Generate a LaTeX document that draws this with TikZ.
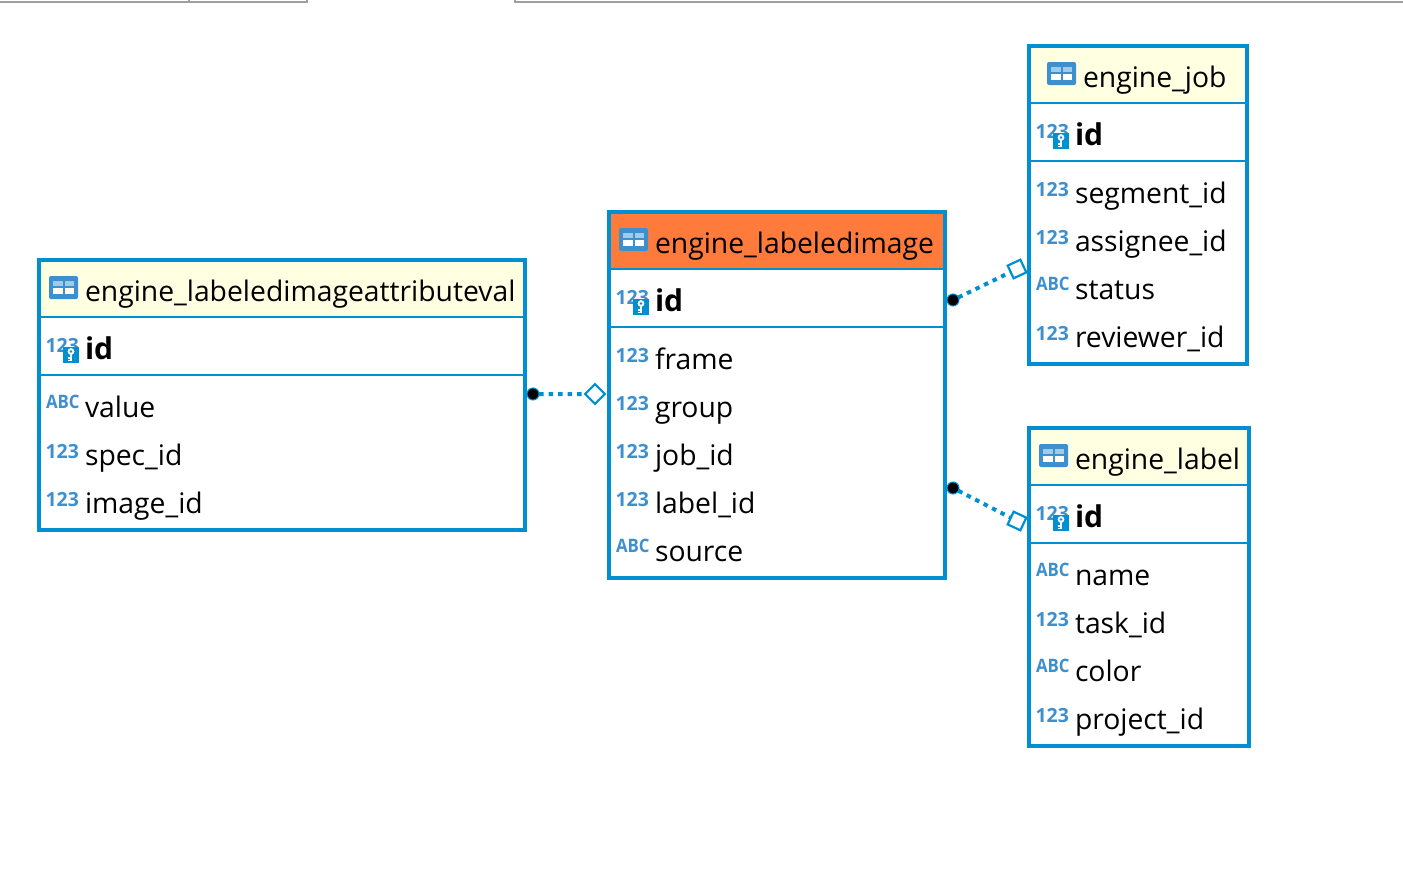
\documentclass[tikz,border=0pt]{standalone}
\usepackage{fontspec}
\setmainfont{Open Sans}
\definecolor{erblue}{HTML}{0090D2}
\definecolor{icoblue}{HTML}{3E8FCE}
\definecolor{icolight}{HTML}{9CCBEC}
\definecolor{hdryellow}{HTML}{FFFFE1}
\definecolor{hdrorange}{HTML}{FF7B3C}
\definecolor{tabgray}{HTML}{A0A0A0}
\newcommand{\fldfont}{\fontsize{28.3}{31}\selectfont}
\newcommand{\idfont}{\fontsize{30}{33}\selectfont\bfseries}
\newcommand{\icofont}{\fontsize{19.5}{20}\selectfont\bfseries}
\tikzset{
  x=1pt,y=-1pt,
  tablebox/.style={draw=erblue,line width=4pt,fill=none,rectangle,inner sep=0pt,outer sep=0pt},
  hdrbox/.style={rectangle,inner sep=0pt,outer sep=0pt,draw=none},
  sepline/.style={draw=erblue,line width=2pt},
  fieldtext/.style={anchor=base west,inner sep=0pt,outer sep=0pt,text=black,font=\fldfont},
  icotext/.style={anchor=base west,inner sep=0pt,outer sep=0pt,text=icoblue,font=\icofont},
  reldot/.style={circle,fill=black,draw=erblue,line width=1pt,minimum size=12pt,inner sep=0pt,outer sep=0pt},
  relopen/.style={rectangle,fill=white,draw=erblue,line width=2.2pt,minimum size=14pt,inner sep=0pt,outer sep=0pt},
  relline/.style={draw=erblue,line width=4pt,dash pattern=on 4.5pt off 5pt},
  tabline/.style={draw=tabgray,line width=1.5pt}
}
% icon of a table: #1 left, #2 top
\newcommand{\tblicon}[2]{%
  \begin{scope}[shift={(#1,#2)}]
    \fill[icoblue,rounded corners=2pt] (0,0) rectangle (29,23);
    \fill[icolight] (4,5) rectangle (13.5,10);
    \fill[icolight] (15.5,5) rectangle (25,10);
    \fill[white] (4,12) rectangle (13.5,18);
    \fill[white] (15.5,12) rectangle (25,18);
  \end{scope}}
\newcommand{\numrow}[4]{%
  \node[icotext] (#1i) at (#2-0.5,#3+3) {123};
  \node[fieldtext] (#1) at (#2+39,#3+10) {#4};}
\newcommand{\abcrow}[4]{%
  \node[icotext] (#1i) at (#2,#3+1) {\scalebox{0.86}[0.95]{ABC}};
  \node[fieldtext] (#1) at (#2+39,#3+10) {#4};}
\newcommand{\idrow}[3]{%
  \node[icotext] (#1i) at (#2-0.5,#3+3) {123};
  \begin{scope}[shift={(#2+17,#3-2)}]
    \fill[erblue] (0,0) rectangle (16,16);
    \fill[white] (8,4.5) circle (3.4);
    \fill[erblue] (8,4.5) circle (1.4);
    \fill[white] (6.7,7) rectangle (9.3,14);
    \fill[white] (4.6,10) rectangle (6.7,11.5);
    \fill[white] (4.6,12.5) rectangle (6.7,14);
  \end{scope}
  \node[fieldtext,font=\idfont] (#1) at (#2+39,#3+10) {id};}
\begin{document}
\begin{tikzpicture}
\useasboundingbox (0,0) rectangle (1403,892);
% window tab edge
\coordinate (ta) at (0,2);
\coordinate (tb) at (307,2);
\coordinate (tc) at (515,2);
\coordinate (td) at (1403,2);
\coordinate (tk) at (189,2);
\draw[tabline] (ta) -- (tb) -- ++(0,-2);
\draw[tabline] (tk) -- ++(0,-2);
\draw[tabline] (td) -- (tc) -- ++(0,-2);

% ---- engine_labeledimageattributeval
\node[hdrbox,fill=hdryellow,minimum width=482pt,minimum height=56pt] (h1) at (282,289) {};
\node[tablebox,minimum width=486pt,minimum height=270pt] (t1) at (282,395) {};
\draw[sepline] (t1.west |- 0,317) -- (t1.east |- 0,317);
\draw[sepline] (t1.west |- 0,375) -- (t1.east |- 0,375);
\tblicon{49}{276}
\node[fieldtext] (t1n) at (85,301) {engine\_labeledimageattributeval};
\idrow{t1a}{46}{349}
\abcrow{t1b}{46}{407}{value}
\numrow{t1c}{46}{455}{spec\_id}
\numrow{t1d}{46}{503}{image\_id}

% ---- engine_labeledimage
\node[hdrbox,fill=hdrorange,minimum width=332pt,minimum height=56pt] (h2) at (777,241) {};
\node[tablebox,minimum width=336pt,minimum height=366pt] (t2) at (777,395) {};
\draw[sepline] (t2.west |- 0,269) -- (t2.east |- 0,269);
\draw[sepline] (t2.west |- 0,327) -- (t2.east |- 0,327);
\tblicon{619}{228}
\node[fieldtext] (t2n) at (655,253) {engine\_labeledimage};
\idrow{t2a}{616}{301}
\numrow{t2b}{616}{359}{frame}
\numrow{t2c}{616}{407}{group}
\numrow{t2d}{616}{455}{job\_id}
\numrow{t2e}{616}{503}{label\_id}
\abcrow{t2f}{616}{551}{source}

% ---- engine_job
\node[hdrbox,fill=hdryellow,minimum width=214pt,minimum height=56pt] (h3) at (1138,75) {};
\node[tablebox,minimum width=218pt,minimum height=318pt] (t3) at (1138,205) {};
\draw[sepline] (t3.west |- 0,103) -- (t3.east |- 0,103);
\draw[sepline] (t3.west |- 0,161) -- (t3.east |- 0,161);
\tblicon{1047}{62}
\node[fieldtext] (t3n) at (1083,87) {engine\_job};
\idrow{t3a}{1036}{135}
\numrow{t3b}{1036}{193}{segment\_id}
\numrow{t3c}{1036}{241}{assignee\_id}
\abcrow{t3d}{1036}{289}{status}
\numrow{t3e}{1036}{337}{reviewer\_id}

% ---- engine_label
\node[hdrbox,fill=hdryellow,minimum width=216pt,minimum height=56pt] (h4) at (1139,457) {};
\node[tablebox,minimum width=220pt,minimum height=318pt] (t4) at (1139,587) {};
\draw[sepline] (t4.west |- 0,485) -- (t4.east |- 0,485);
\draw[sepline] (t4.west |- 0,543) -- (t4.east |- 0,543);
\tblicon{1039}{444}
\node[fieldtext] (t4n) at (1075,469) {engine\_label};
\idrow{t4a}{1036}{517}
\abcrow{t4b}{1036}{575}{name}
\numrow{t4c}{1036}{623}{task\_id}
\abcrow{t4d}{1036}{671}{color}
\numrow{t4e}{1036}{719}{project\_id}

% ---- relations
\node[reldot] (d1) at (533,394) {};
\node[relopen,rotate=45] (o1) at (595,394) {};
\draw[relline] (d1) -- (o1);
\node[reldot] (d2) at (953,300) {};
\node[relopen,rotate=25] (o2) at (1017,269) {};
\draw[relline] (d2) -- (o2);
\node[reldot] (d3) at (953,488) {};
\node[relopen,rotate=-25] (o3) at (1017,521) {};
\draw[relline] (d3) -- (o3);
\end{tikzpicture}
\end{document}
